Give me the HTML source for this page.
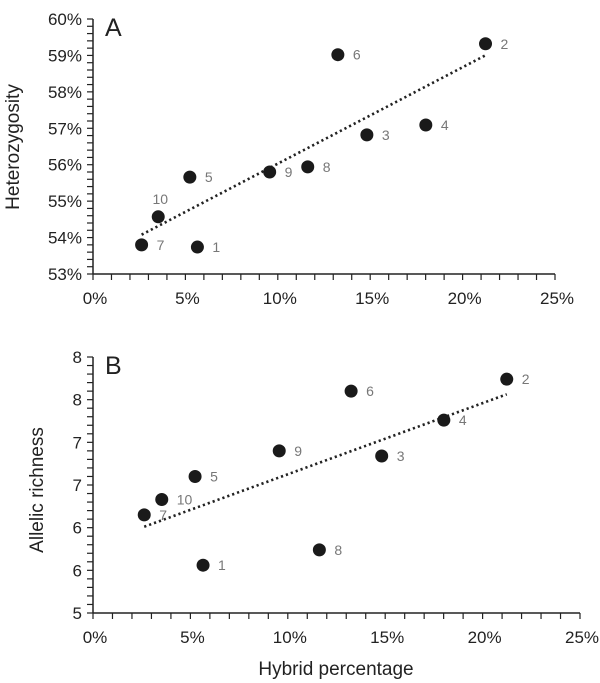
<!DOCTYPE html>
<html><head><meta charset="utf-8"><style>
body{margin:0;background:#fff;}
svg{display:block;font-family:"Liberation Sans",sans-serif;}
</style></head><body>
<svg id="chart" width="600" height="683"></svg>
<script>
const popLabels=["1","2","3","4","5","6","7","8","9","10"];
const hybridPct=[5.65,21.24,14.82,18.01,5.24,13.25,2.63,11.62,9.56,3.53];
const heterozygosity=[53.74,59.32,56.82,57.09,55.66,59.02,53.80,55.94,55.80,54.57];
const allelicRichness=[5.56,7.74,6.84,7.26,6.60,7.60,6.15,5.74,6.90,6.33];
const xTicks=[0,5,10,15,20,25];
const yTicksA=[53,54,55,56,57,58,59,60];
const yTicksB=[5,5.5,6,6.5,7,7.5,8];

const NS="http://www.w3.org/2000/svg";
const svg=document.getElementById('chart');
function mk(tag,attrs,parent){const e=document.createElementNS(NS,tag);for(const k in attrs)e.setAttribute(k,attrs[k]);(parent||svg).appendChild(e);return e;}

function panel(cfg){
  const g=mk('g',{});
  
  
  const sx=v=>cfg.x0+(v-0)/(25)*(cfg.x1-cfg.x0);
  const sy=v=>cfg.y0-(v-cfg.ymin)/(cfg.ymax-cfg.ymin)*(cfg.y0-cfg.y1);
  // axes
  const ya=mk('line',{x1:cfg.x0,y1:cfg.y1,x2:cfg.x0,y2:cfg.y0,stroke:'#222','stroke-width':1.5},g);
  
  
  const xa=mk('line',{x1:cfg.x0,y1:cfg.y0,x2:cfg.x1,y2:cfg.y0,stroke:'#222','stroke-width':1.5},g);
  
  
  // y minor ticks
  const steps=Math.round((cfg.ymax-cfg.ymin)/cfg.minorY);
  for(let i=0;i<=steps;i++){
    const y=sy(cfg.ymin+i*cfg.minorY);
    const t=mk('line',{x1:cfg.x0-6,y1:y,x2:cfg.x0,y2:y,stroke:'#222','stroke-width':1.2},g);
    
    
  }
  for(let i=0;i<=25;i++){
    const x=sx(i);
    const t=mk('line',{x1:x,y1:cfg.y0,x2:x,y2:cfg.y0+6,stroke:'#222','stroke-width':1.2},g);
    
    
  }
  cfg.yTicks.forEach(v=>{
    const t=mk('text',{x:cfg.x0-11,y:sy(v)+6,'text-anchor':'end','font-size':17,fill:'#222'},g);
    t.textContent=cfg.yFmt(v);
    
    
  });
  xTicks.forEach(v=>{
    const t=mk('text',{x:sx(v)+2,y:cfg.y0+30,'text-anchor':'middle','font-size':17,fill:'#222'},g);
    t.textContent=v+'%';
    
    
  });
  // regression
  const n=hybridPct.length;let mx=0,my=0;
  for(let i=0;i<n;i++){mx+=hybridPct[i];my+=cfg.ys[i];}
  mx/=n;my/=n;let sxy=0,sxx=0;
  for(let i=0;i<n;i++){sxy+=(hybridPct[i]-mx)*(cfg.ys[i]-my);sxx+=(hybridPct[i]-mx)**2;}
  const b=sxy/sxx,a=my-b*mx;
  const xmin=Math.min(...hybridPct),xmax=Math.max(...hybridPct);
  const tl=mk('line',{x1:sx(xmin),y1:sy(a+b*xmin),x2:sx(xmax),y2:sy(a+b*xmax),stroke:'#222','stroke-width':2.6,'stroke-dasharray':'2.2 3'},g);
  
  
  for(let i=0;i<n;i++){
    const cx=sx(hybridPct[i]),cy=sy(cfg.ys[i]);
    const c=mk('circle',{cx:cx,cy:cy,r:6.5,fill:'#1a1a1a'},g);
    
    
    let lx=cx+15,ly=cy+5,anchor='start';
    if(cfg.above&&popLabels[i]==='10'){lx=cx+2;ly=cy-13;anchor='middle';}
    const t=mk('text',{x:lx,y:ly,'text-anchor':anchor,'font-size':14,fill:'#777'},g);
    t.textContent=popLabels[i];
    
    
  }
  const pl=mk('text',{x:cfg.x0+12,y:cfg.y1+17,'font-size':25,fill:'#222'},g);
  pl.textContent=cfg.letter;
  
  
  const yt=mk('text',{x:0,y:0,'text-anchor':'middle','font-size':19,fill:'#222',transform:`translate(${cfg.titleX},${cfg.titleY}) rotate(-90)`},g);
  yt.textContent=cfg.yTitle;
  
  
}

panel({name:'panel-a-heterozygosity',letter:'A',x0:93,x1:555,y0:274,y1:19,ymin:53,ymax:60,minorY:0.2,
  yTicks:yTicksA,yFmt:v=>v+'%',ys:heterozygosity,above:true,yTitle:'Heterozygosity',titleX:19,titleY:147});
panel({name:'panel-b-allelic-richness',letter:'B',x0:93,x1:580,y0:613,y1:357,ymin:5,ymax:8,minorY:0.1,
  yTicks:yTicksB,yFmt:v=>Math.round(v+0.001).toString(),ys:allelicRichness,above:false,yTitle:'Allelic richness',titleX:43,titleY:490});

const xt=mk('text',{x:336,y:675,'text-anchor':'middle','font-size':19,fill:'#222'});
xt.textContent='Hybrid percentage';


</script>
</body></html>
